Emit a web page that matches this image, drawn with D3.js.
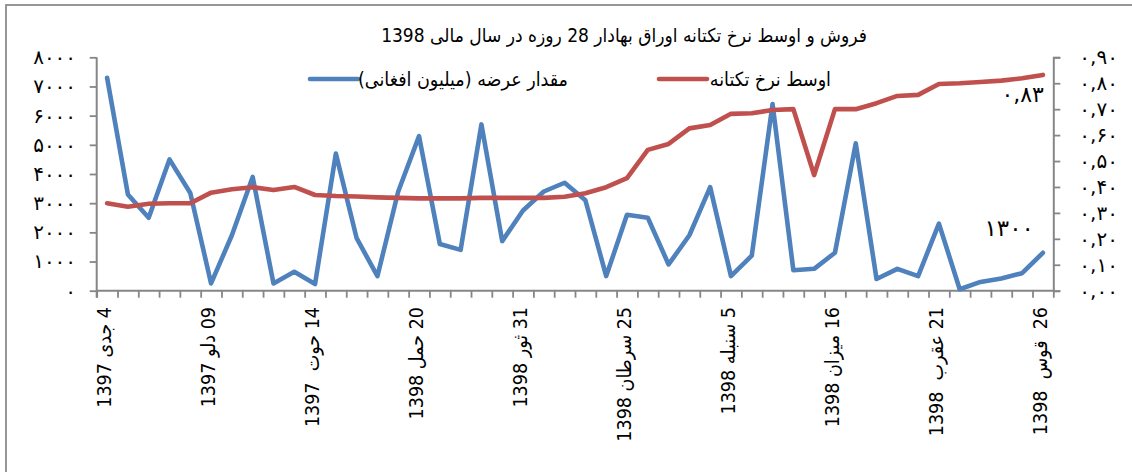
<!DOCTYPE html>
<html><head><meta charset="utf-8">
<script src="https://cdn.jsdelivr.net/npm/d3@7"></script>
<style>
html,body{margin:0;padding:0;background:#fff;}
svg{display:block;}
text{font-family:'Liberation Sans Narrow','DejaVu Sans Condensed','DejaVu Sans',sans-serif;}
</style></head>
<body>
<svg id="c" width="1132" height="472"></svg>
<script>
// ---- data ----
const title = "فروش و اوسط نرخ تکتانه اوراق بهادار 28 روزه در سال مالی 1398";
const seriesNames = ["مقدار عرضه (میلیون افغانی)", "اوسط نرخ تکتانه"];
const supply = [7300,3300,2500,4500,3350,250,1900,3900,250,650,230,4700,1800,500,3400,5300,1600,1400,5700,1700,2750,3400,3700,3100,500,2600,2500,900,1900,3550,500,1200,6400,700,750,1300,5050,400,750,500,2300,50,300,420,600,1300];
const rate = [0.337,0.324,0.335,0.337,0.337,0.378,0.391,0.399,0.388,0.40,0.369,0.365,0.363,0.36,0.358,0.356,0.356,0.356,0.358,0.358,0.358,0.358,0.362,0.376,0.399,0.434,0.543,0.566,0.626,0.639,0.682,0.684,0.697,0.70,0.446,0.70,0.70,0.723,0.751,0.755,0.797,0.80,0.805,0.81,0.819,0.832];
const tickLabelIdx = [0,5,10,15,20,25,30,35,40,45];
const tickLabels = ["4 جدی 1397","09 دلو 1397","14 حوت  1397","20 حمل 1398","31 ثور 1398","25 سرطان 1398","5 سنبله 1398","16 میزان 1398","21 عقرب  1398","26  قوس  1398"];
const leftTicks = [0,1000,2000,3000,4000,5000,6000,7000,8000];
const rightTicks = [0,0.1,0.2,0.3,0.4,0.5,0.6,0.7,0.8,0.9];

const fa = s => String(s).replace(/[0-9]/g, d => "۰۱۲۳۴۵۶۷۸۹"[d]);

const svg = d3.select("#c");
const L = 96.7, R = 1053.3, T = 57.3, B = 290.7;
const gray = "#868686";
const BLUE = "#4F81BD", RED = "#C0504D";

// frame
svg.append("rect").attr("x",6).attr("y",5).attr("width",1140).attr("height",480)
  .attr("fill","none").attr("stroke","#8c8c8c").attr("stroke-width",1.8);

const n = supply.length;
const xb = d3.scaleBand().domain(d3.range(n)).range([L,R]).padding(0);
const xe = d3.scaleLinear().domain([0,n]).range([L,R]);
const cx = i => xb(i) + xb.bandwidth()/2;
const yL = d3.scaleLinear().domain([0,8000]).range([B,T]);
const yR = d3.scaleLinear().domain([0,0.9]).range([B,T]);

// axes
const gl = svg.append("g").attr("transform",`translate(${L},0)`)
  .call(d3.axisLeft(yL).tickValues(leftTicks).tickSize(7).tickPadding(18).tickFormat(d=>fa(d)));
const gr = svg.append("g").attr("transform",`translate(${R},0)`)
  .call(d3.axisRight(yR).tickValues(rightTicks).tickSize(7).tickPadding(19)
    .tickFormat(d=>fa(d3.format(".2f")(d)).replace(".",",")));
const gx = svg.append("g").attr("transform",`translate(0,${B})`)
  .call(d3.axisBottom(xe).tickValues(d3.range(n+1)).tickSize(7).tickFormat(""));
[gl,gr,gx].forEach(g=>{
  g.selectAll("path.domain").attr("stroke",gray).attr("stroke-width",2);
  g.selectAll(".tick line").attr("stroke",gray).attr("stroke-width",1.8);
  g.selectAll(".tick text").attr("fill","#000").attr("font-size",20)
    .style("font-family","'DejaVu Sans',sans-serif");
});
gl.selectAll(".tick text").style("letter-spacing","4.4px").attr("dx","4.4px");
gr.selectAll(".tick text").style("letter-spacing","2.6px");
gl.select("path.domain").attr("d",`M0,${T}V${B+7}`);
gx.select("path.domain").attr("d",`M${L},0H${R}`);

// x labels
svg.append("g").selectAll("text").data(tickLabelIdx).join("text")
  .attr("transform",d=>`translate(${cx(d)-3},307) rotate(-90)`)
  .attr("dy","0.35em")
  .attr("text-anchor","start")
  .style("direction","rtl").style("white-space","pre")
  .attr("font-size",19.5).attr("fill","#000")
  .text((d,i)=>tickLabels[i]);

// lines
const lineL = d3.line().x((d,i)=>cx(i)).y(d=>yL(d));
const lineR = d3.line().x((d,i)=>cx(i)).y(d=>yR(d));
svg.append("path").datum(supply).attr("d",lineL).attr("fill","none")
  .attr("stroke",BLUE).attr("stroke-width",4.6).attr("stroke-linejoin","round").attr("stroke-linecap","round");
svg.append("path").datum(rate).attr("d",lineR).attr("fill","none")
  .attr("stroke",RED).attr("stroke-width",4.6).attr("stroke-linejoin","round").attr("stroke-linecap","round");

// annotations
svg.append("text").attr("x",cx(n-1)+1).attr("y",102).attr("text-anchor","end")
  .attr("font-size",22).style("letter-spacing","2.2px").style("font-family","'DejaVu Sans',sans-serif")
  .text(fa(d3.format(".2f")(rate[n-1])).replace(".",","));
svg.append("text").attr("x",cx(n-1)-9).attr("y",236).attr("text-anchor","end")
  .attr("font-size",23).style("letter-spacing","3px").style("font-family","'DejaVu Sans',sans-serif")
  .text(fa(supply[n-1]));

// legend
const lg = svg.append("g");
lg.append("line").attr("x1",310).attr("x2",358).attr("y1",79).attr("y2",79)
  .attr("stroke",BLUE).attr("stroke-width",4.6).attr("stroke-linecap","round");
lg.append("text").attr("x",568).attr("y",86).attr("text-anchor","end").attr("font-size",19.5)
  .text(seriesNames[0]);
lg.append("line").attr("x1",659).attr("x2",707).attr("y1",79).attr("y2",79)
  .attr("stroke",RED).attr("stroke-width",4.6).attr("stroke-linecap","round");
lg.append("text").attr("x",831).attr("y",86).attr("text-anchor","end").attr("font-size",19.5)
  .text(seriesNames[1]);

// title
svg.append("text").attr("x",624).attr("y",42).attr("text-anchor","middle")
  .attr("font-size",19).style("direction","rtl").text(title);
</script>
</body></html>
